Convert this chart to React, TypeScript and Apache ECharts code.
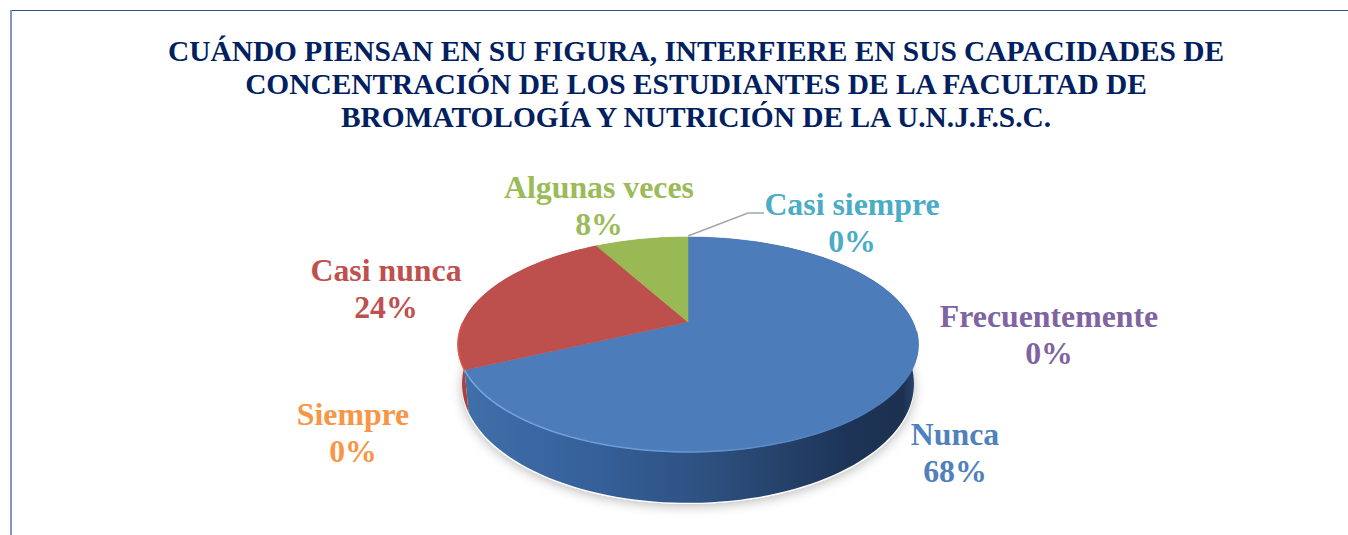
import React, { useEffect, useRef } from "react";
import * as echarts from "echarts";

const titleLines = [
  "CUÁNDO PIENSAN EN SU FIGURA, INTERFIERE EN SUS CAPACIDADES DE",
  "CONCENTRACIÓN DE LOS ESTUDIANTES DE LA FACULTAD DE",
  "BROMATOLOGÍA Y NUTRICIÓN DE LA U.N.J.F.S.C.",
];
const categories = ["Nunca", "Casi nunca", "Algunas veces", "Casi siempre", "Frecuentemente", "Siempre"];
const percents = [68, 24, 8, 0, 0, 0];

const colors = ["#4c7dba", "#bd4f4c", "#98b954", "#4bacc6", "#8064a2", "#f79646"];
const labelColors = ["#4f81bd", "#c0504d", "#9bbb59", "#4bacc6", "#8064a2", "#f79646"];
const labelCenters: number[][] = [
  [955, 453], [386, 289], [599, 206], [852, 223], [1049, 335], [353, 433],
];

const SERIF = "'Liberation Serif', 'Times New Roman', serif";
const cx = 688;
const k = 0.209;
const topFace = { a: 225, b: 102.8, y0: 322 };
const baseFace = { a: 221, b: 113.8, y0: 359 };

// Perspective projection of a point on a circular disc (clockwise from 12 o'clock).
function project(face: { a: number; b: number; y0: number }, deg: number, r = 1): number[] {
  const t = (deg * Math.PI) / 180;
  const u = Math.sin(t) * r;
  const v = -Math.cos(t) * r;
  const w = 1 - k * v;
  return [cx + (face.a * u) / w, face.y0 + (face.b * v) / w];
}

function arc(face: { a: number; b: number; y0: number }, from: number, to: number): number[][] {
  const n = Math.max(2, Math.ceil((to - from) / 2));
  const out: number[][] = [];
  for (let i = 0; i <= n; i++) out.push(project(face, from + ((to - from) * i) / n));
  return out;
}

const blueSide = {
  type: "linear", global: true, x: 458, y: 0, x2: 917, y2: 0,
  colorStops: [
    { offset: 0, color: "#41709f" },
    { offset: 0.03, color: "#3f6ea9" },
    { offset: 0.3, color: "#35609a" },
    { offset: 0.55, color: "#2d507f" },
    { offset: 0.85, color: "#1d3457" },
    { offset: 0.97, color: "#1c3150" },
    { offset: 1, color: "#2a4a75" },
  ],
};
const blueRim = {
  type: "linear", global: true, x: 467, y: 0, x2: 910, y2: 0,
  colorStops: [
    { offset: 0, color: "#7aa6e0" },
    { offset: 0.45, color: "#6a98d2" },
    { offset: 0.85, color: "#4f80bd" },
    { offset: 1, color: "#4c7dba" },
  ],
};

function renderItem(params: any, api: any) {
  const i = params.dataIndex;
  const value = api.value(1);
  const start = percents.slice(0, i).reduce((s, v) => s + v, 0);
  const from = (start / 100) * 360;
  const to = ((start + value) / 100) * 360;
  const children: any[] = [];

  if (value > 0) {
    const topArc = arc(topFace, from, to);
    const baseArc = arc(baseFace, from, to).reverse();
    const apex = project(topFace, 0, 0);
    const sideFill = i === 0 ? blueSide : i === 1 ? "#a9423f" : "#7f9c45";
    children.push({
      type: "polygon",
      z2: 1,
      shape: { points: [...topArc, ...baseArc] },
      style: { fill: sideFill },
    });
    children.push({
      type: "polygon",
      z2: 2,
      shape: { points: [apex, ...topArc] },
      style: { fill: colors[i], stroke: colors[i], lineWidth: 0.5 },
    });
    if (i === 0) {
      children.push({
        type: "polyline",
        z2: 3,
        shape: { points: arc(topFace, 95, to) },
        style: { stroke: blueRim, lineWidth: 1.5, fill: "none" },
      });
    }
    if (i === 1) {
      children.push({
        type: "polyline",
        z2: 3,
        shape: { points: arc(topFace, from, from + 25) },
        style: { stroke: "#e0584f", lineWidth: 1.5, fill: "none" },
      });
    }
  }

  const [lx, ly] = labelCenters[i];
  children.push({
    type: "text",
    z2: 5,
    style: {
      x: lx,
      y: ly,
      text: `${categories[i]}\n${value}%`,
      fill: labelColors[i],
      font: `bold 31.8px ${SERIF}`,
      lineHeight: 37,
      align: "center",
      verticalAlign: "middle",
    },
  });

  if (categories[i] === "Casi siempre") {
    const anchor = project(topFace, to);
    children.push({
      type: "polyline",
      z2: 4,
      shape: { points: [[anchor[0], anchor[1] - 1], [748, 213], [764, 213]] },
      style: { stroke: "#a6a6a6", lineWidth: 1.5, fill: "none" },
    });
  }
  return { type: "group", children };
}

export default function App() {
  const ref = useRef<HTMLDivElement>(null);
  useEffect(() => {
    document.body.style.margin = "0";
    const chart = echarts.init(ref.current!, null, { renderer: "svg" });
    chart.setOption({
      animation: false,
      backgroundColor: "#ffffff",
      title: {
        text: titleLines.join("\n"),
        left: 691,
        top: 29,
        textAlign: "center",
        textStyle: {
          fontFamily: SERIF,
          fontWeight: "bold",
          fontSize: 29.4,
          lineHeight: 33,
          color: "#002060",
        },
      },
      graphic: [
        {
          type: "line",
          silent: true,
          shape: { x1: 11, y1: 10.5, x2: 1348, y2: 10.5 },
          style: { stroke: "#2f4f8f", lineWidth: 1.2 },
        },
        {
          type: "line",
          silent: true,
          shape: { x1: 11, y1: 10, x2: 11, y2: 535 },
          style: { stroke: "#8496b8", lineWidth: 2 },
        },
        {
          type: "ellipse",
          silent: true,
          z: 0,
          shape: { cx: 688, cy: 386, rx: 226, ry: 118 },
          style: {
            fill: "#ffffff",
            shadowBlur: 12,
            shadowOffsetY: 2,
            shadowColor: "rgba(0,0,0,0.28)",
          },
        },
      ],
      series: [
        {
          type: "custom",
          coordinateSystem: "none",
          name: "Concentración",
          z: 3,
          silent: true,
          renderItem,
          data: percents.map((v, i) => [i, v]),
        },
      ],
    });
    return () => chart.dispose();
  }, []);
  return <div ref={ref} style={{ width: 1348, height: 535 }} />;
}
